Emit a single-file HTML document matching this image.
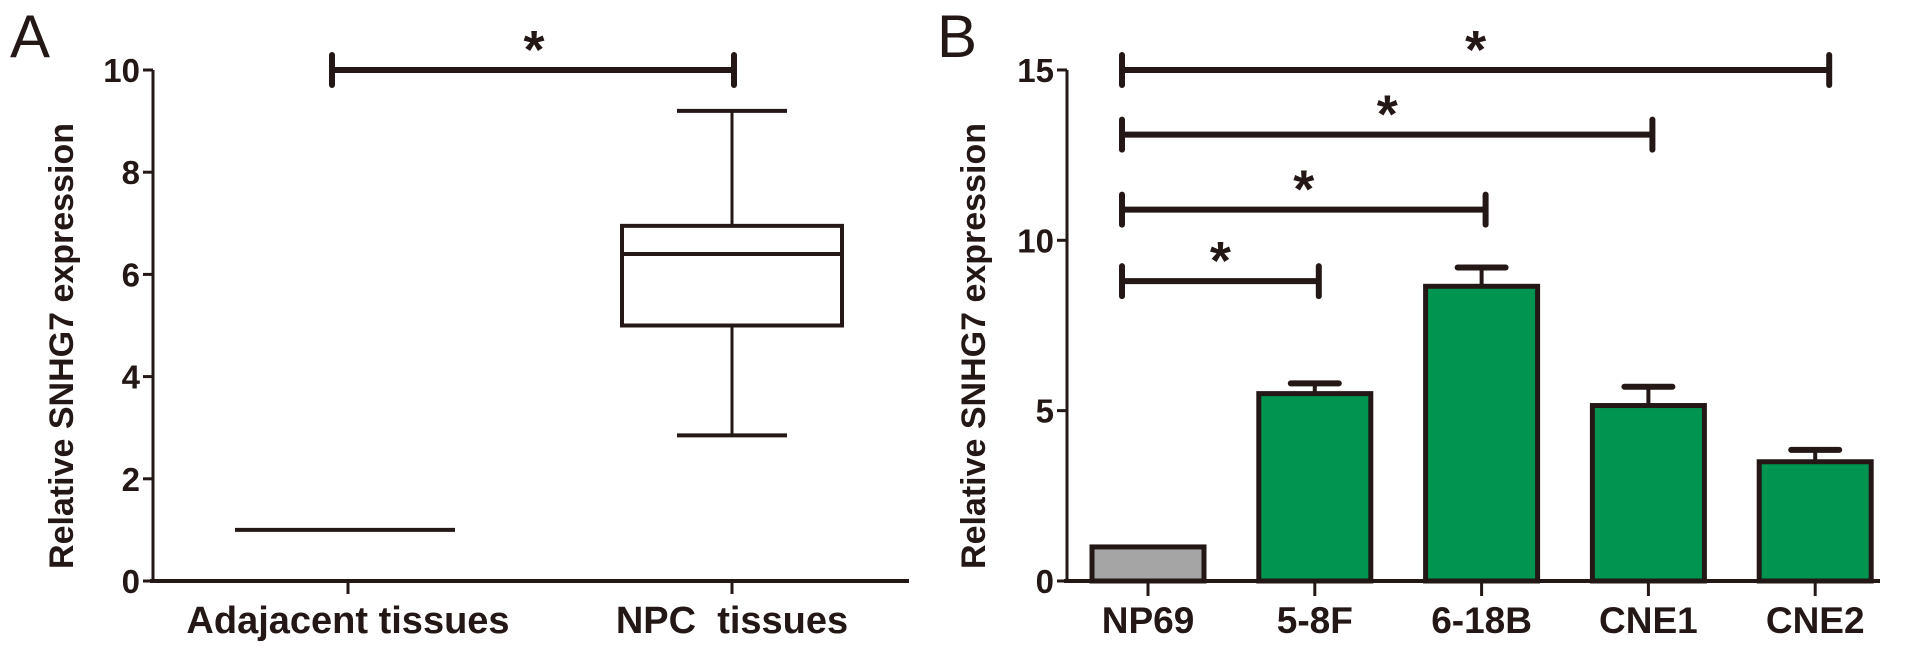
<!DOCTYPE html>
<html><head><meta charset="utf-8"><style>
html,body{margin:0;padding:0;background:#fff;width:1913px;height:653px;overflow:hidden}
svg text{font-family:"Liberation Sans",Arial,sans-serif;fill:#231815;white-space:pre}
</style></head><body>
<svg id="chart" width="1913" height="653" viewBox="0 0 1913 653" xmlns="http://www.w3.org/2000/svg">
<g id="pa"></g>
<g id="pb"></g>
</svg>
<script>
// Panel A data
const aCategories = ["Adajacent tissues", "NPC  tissues"];
const aTicks = [0, 2, 4, 6, 8, 10];
const aAdjValue = [1];
const aBoxStats = [2.85, 5.0, 6.4, 6.95, 9.2]; // min, q1, median, q3, max
// Panel B data
const bCategories = ["NP69", "5-8F", "6-18B", "CNE1", "CNE2"];
const bValues = [1, 5.5, 8.65, 5.15, 3.5];
const bErrors = [0, 0.3, 0.55, 0.55, 0.35];
const bTicks = [0, 5, 10, 15];
const bSigTargets = [1, 2, 3, 4];
const bSigLevels = [8.8, 10.9, 13.1, 15];

const NS = "http://www.w3.org/2000/svg";
const C = "#231815";
function mk(parent, tag, attrs, text) {
  const e = document.createElementNS(NS, tag);
  for (const k in attrs) e.setAttribute(k, attrs[k]);
  if (text !== undefined) e.textContent = text;
  parent.appendChild(e);
  return e;
}
const pa = document.getElementById('pa');
const pb = document.getElementById('pb');

// ---------- Panel A ----------
const ayA = v => 581 - v * 51.1;
const axA = i => [348, 732][i];
let t = mk(pa, 'text', {x: 10, y: 57, 'font-size': 60}, 'A');


let l = mk(pa, 'line', {x1: 153, y1: ayA(10), x2: 153, y2: 581, stroke: C, 'stroke-width': 3});


l = mk(pa, 'line', {x1: 150, y1: 581, x2: 909, y2: 581, stroke: C, 'stroke-width': 4});


aTicks.forEach(v => {
  const y = ayA(v);
  let tk = mk(pa, 'line', {x1: 143, y1: y, x2: 153, y2: y, stroke: C, 'stroke-width': 3});
  
  
  let tl = mk(pa, 'text', {x: 140, y: y + 12, 'font-size': 33, 'font-weight': 'bold', 'text-anchor': 'end'}, v);
  
  
});
aCategories.forEach((c, i) => {
  let tk = mk(pa, 'line', {x1: axA(i), y1: 581, x2: axA(i), y2: 594, stroke: C, 'stroke-width': 3});
  
  
  let tl = mk(pa, 'text', {x: axA(i), y: 633, 'font-size': 38, 'font-weight': 'bold', 'text-anchor': 'middle'}, c);
  
  
});
t = mk(pa, 'text', {x: 0, y: 0, 'font-size': 34, 'font-weight': 'bold', 'text-anchor': 'middle', transform: 'translate(73,346) rotate(-90)'}, 'Relative SNHG7 expression');


// adjacent line
l = mk(pa, 'line', {x1: axA(0) - 113, y1: ayA(aAdjValue[0]), x2: axA(0) + 107, y2: ayA(aAdjValue[0]), stroke: C, 'stroke-width': 4});


// box plot
const bx = axA(1);
const [mn, q1, md, q3, mx] = aBoxStats;
let g = mk(pa, 'g', {});


mk(g, 'line', {x1: bx, y1: ayA(mx), x2: bx, y2: ayA(q3), stroke: C, 'stroke-width': 3});
mk(g, 'line', {x1: bx, y1: ayA(q1), x2: bx, y2: ayA(mn), stroke: C, 'stroke-width': 3});
mk(g, 'line', {x1: bx - 55, y1: ayA(mx), x2: bx + 55, y2: ayA(mx), stroke: C, 'stroke-width': 4});
mk(g, 'line', {x1: bx - 55, y1: ayA(mn), x2: bx + 55, y2: ayA(mn), stroke: C, 'stroke-width': 4});
mk(g, 'rect', {x: bx - 110, y: ayA(q3), width: 220, height: ayA(q1) - ayA(q3), fill: '#fff', stroke: C, 'stroke-width': 4});
mk(g, 'line', {x1: bx - 110, y1: ayA(md), x2: bx + 110, y2: ayA(md), stroke: C, 'stroke-width': 4});
// significance A
g = mk(pa, 'g', {});


const sy = ayA(10);
mk(g, 'line', {x1: 332, y1: sy, x2: 734, y2: sy, stroke: C, 'stroke-width': 6});
mk(g, 'line', {x1: 332, y1: sy - 15, x2: 332, y2: sy + 15, stroke: C, 'stroke-width': 6, 'stroke-linecap': 'round'});
mk(g, 'line', {x1: 734, y1: sy - 15, x2: 734, y2: sy + 15, stroke: C, 'stroke-width': 6, 'stroke-linecap': 'round'});
mk(g, 'text', {x: 534, y: sy - 2, 'font-size': 54, 'font-weight': 'bold', 'text-anchor': 'middle'}, '*');

// ---------- Panel B ----------
const ayB = v => 581 - v * 34.07;
const axB = i => 1148 + i * 166.8;
t = mk(pb, 'text', {x: 937, y: 57, 'font-size': 60}, 'B');


t = mk(pb, 'text', {x: 0, y: 0, 'font-size': 34, 'font-weight': 'bold', 'text-anchor': 'middle', transform: 'translate(985,346) rotate(-90)'}, 'Relative SNHG7 expression');


bValues.forEach((v, i) => {
  const x = axB(i), w = 112;
  let r = mk(pb, 'rect', {x: x - w / 2, y: ayB(v), width: w, height: 581 - ayB(v), fill: i === 0 ? '#a5a5a5' : '#009451', stroke: C, 'stroke-width': 5});
  
  
  if (bErrors[i] > 0) {
    const eg = mk(pb, 'g', {});
    
    
    mk(eg, 'line', {x1: x, y1: ayB(v), x2: x, y2: ayB(v + bErrors[i]), stroke: C, 'stroke-width': 4});
    mk(eg, 'line', {x1: x - 24, y1: ayB(v + bErrors[i]), x2: x + 24, y2: ayB(v + bErrors[i]), stroke: C, 'stroke-width': 6, 'stroke-linecap': 'round'});
  }
});
l = mk(pb, 'line', {x1: 1067, y1: ayB(15), x2: 1067, y2: 581, stroke: C, 'stroke-width': 3});


l = mk(pb, 'line', {x1: 1064, y1: 581, x2: 1880, y2: 581, stroke: C, 'stroke-width': 4});


bTicks.forEach(v => {
  const y = ayB(v);
  let tk = mk(pb, 'line', {x1: 1057, y1: y, x2: 1067, y2: y, stroke: C, 'stroke-width': 3});
  
  
  let tl = mk(pb, 'text', {x: 1054, y: y + 12, 'font-size': 33, 'font-weight': 'bold', 'text-anchor': 'end'}, v);
  
  
});
bCategories.forEach((c, i) => {
  let tk = mk(pb, 'line', {x1: axB(i), y1: 581, x2: axB(i), y2: 596, stroke: C, 'stroke-width': 3});
  
  
  let tl = mk(pb, 'text', {x: axB(i), y: 633, 'font-size': 37, 'font-weight': 'bold', 'text-anchor': 'middle'}, c);
  
  
});
bSigTargets.forEach((ti, k) => {
  const y = ayB(bSigLevels[k]);
  const x1 = axB(0) - 26, x2 = axB(ti) + (ti === 4 ? 14 : 4);
  const sg = mk(pb, 'g', {});
  
  
  mk(sg, 'line', {x1: x1, y1: y, x2: x2, y2: y, stroke: C, 'stroke-width': 6});
  mk(sg, 'line', {x1: x1, y1: y - 15, x2: x1, y2: y + 15, stroke: C, 'stroke-width': 6, 'stroke-linecap': 'round'});
  mk(sg, 'line', {x1: x2, y1: y - 15, x2: x2, y2: y + 15, stroke: C, 'stroke-width': 6, 'stroke-linecap': 'round'});
  mk(sg, 'text', {x: (x1 + x2) / 2, y: y - 2, 'font-size': 54, 'font-weight': 'bold', 'text-anchor': 'middle'}, '*');
});
</script>
</body></html>
